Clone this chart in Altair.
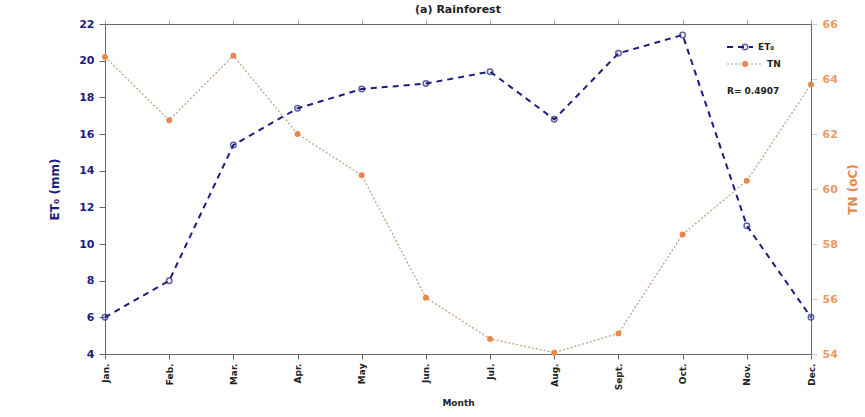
import altair as alt
import pandas as pd

months = ["Jan.", "Feb.", "Mar.", "Apr.", "May", "Jun.", "Jul.", "Aug.", "Sept.", "Oct.", "Nov.", "Dec."]
et0 = [6.0, 8.0, 15.4, 17.4, 18.45, 18.75, 19.4, 16.8, 20.4, 21.4, 11.0, 6.0]
tn = [64.8, 62.5, 64.85, 62.0, 60.5, 56.05, 54.55, 54.05, 54.75, 58.35, 60.3, 63.8]

NAVY = "#1c1c80"
ORANGE = "#e8874a"
TN_LINE = "#c99a7a"
FONT = "DejaVu Sans"

df = pd.DataFrame({"month": months, "et0": et0, "tn": tn})

x_bottom = alt.X(
    "month:O", sort=months,
    scale=alt.Scale(type="point", padding=0),
    axis=alt.Axis(title="Month", labelAngle=-90, labelFont=FONT, labelFontWeight="bold",
                  labelFontSize=9, labelColor="#222", titleFont=FONT, titleFontSize=9,
                  titleFontWeight="bold", titleColor="#222", domainColor="#666",
                  tickColor="#666", tickSize=5, labelPadding=4, titlePadding=9),
)
x_top = alt.X(
    "month:O", sort=months,
    scale=alt.Scale(type="point", padding=0),
    axis=alt.Axis(orient="top", labels=False, title=None, domainColor="#666",
                  tickColor="#aaa", tickSize=5),
)

y_et0 = alt.Y(
    "et0:Q", scale=alt.Scale(domain=[4, 22], nice=False),
    axis=alt.Axis(title="ET₀ (mm)", values=list(range(4, 23, 2)), labelFont=FONT,
                  labelFontWeight="bold", labelFontSize=11, labelColor=NAVY,
                  titleFont=FONT, titleFontSize=12, titleFontWeight="bold",
                  titleColor=NAVY, domainColor="#666", tickColor="#666", tickSize=6,
                  grid=False, labelPadding=5, titlePadding=17),
)
y_tn = alt.Y(
    "tn:Q", scale=alt.Scale(domain=[54, 66], nice=False),
    axis=alt.Axis(orient="right", title="TN (oC)", titleAngle=-90, titleBaseline="bottom",
                  values=list(range(54, 67, 2)),
                  labelFont=FONT, labelFontWeight="bold", labelFontSize=11,
                  labelColor="#eb9a62", titleFont=FONT, titleFontSize=12,
                  titleFontWeight="bold", titleColor=ORANGE, domainColor="#666",
                  tickColor="#ccc", tickSize=6, labelPadding=5, grid=False, titlePadding=22),
)

base = alt.Chart(df)

et0_line = base.mark_line(color=NAVY, strokeDash=[6, 5], strokeWidth=2).encode(x=x_bottom, y=y_et0)
et0_pts = base.mark_point(color=NAVY, shape="circle", size=30, strokeWidth=1.5, filled=False).encode(
    x=x_bottom, y=y_et0)
tn_line = base.mark_line(color=TN_LINE, strokeDash=[2, 2], strokeWidth=1.2).encode(x=x_top, y=y_tn)
tn_pts = base.mark_point(color=ORANGE, shape="circle", size=35, filled=True, opacity=1).encode(
    x=x_top, y=y_tn)

left = alt.layer(et0_line, et0_pts)
right = alt.layer(tn_line, tn_pts)

# hand-drawn legend and correlation note
leg = pd.DataFrame({"k": [0]})
leg_et_line = alt.Chart(leg).mark_rule(color=NAVY, strokeDash=[6, 5], strokeWidth=2).encode(
    x=alt.value(622), x2=alt.value(648), y=alt.value(23))
leg_et_pt = alt.Chart(leg).mark_point(color=NAVY, shape="circle", size=30, strokeWidth=1.5).encode(
    x=alt.value(640), y=alt.value(23))
leg_et_txt = alt.Chart(leg).mark_text(text="ET₀", align="left", baseline="middle", font=FONT,
                                      fontWeight="bold", fontSize=9, color="#222").encode(
    x=alt.value(653), y=alt.value(23))
leg_tn_line = alt.Chart(leg).mark_rule(color=TN_LINE, strokeDash=[2, 2], strokeWidth=1.2).encode(
    x=alt.value(622), x2=alt.value(658), y=alt.value(40))
leg_tn_pt = alt.Chart(leg).mark_point(color=ORANGE, shape="circle", size=35, filled=True, opacity=1).encode(
    x=alt.value(640), y=alt.value(40))
leg_tn_txt = alt.Chart(leg).mark_text(text="TN", align="left", baseline="middle", font=FONT,
                                      fontWeight="bold", fontSize=9, color="#222").encode(
    x=alt.value(662), y=alt.value(40))
r_txt = alt.Chart(leg).mark_text(text="R= 0.4907", align="left", baseline="middle", font=FONT,
                                 fontWeight="bold", fontSize=9, color="#222").encode(
    x=alt.value(622), y=alt.value(67))

chart = (
    alt.layer(left, right, leg_et_line, leg_et_pt, leg_et_txt, leg_tn_line, leg_tn_pt,
              leg_tn_txt, r_txt)
    .resolve_scale(y="independent")
    .resolve_axis(x="independent")
    .properties(
        width=706, height=330,
        title=alt.Title("(a) Rainforest", font=FONT, fontSize=11, fontWeight="bold",
                        color="#222", anchor="middle", offset=3),
        autosize=alt.AutoSizeParams(type="none"),
        padding={"left": 105, "top": 24, "right": 54, "bottom": 63},
    )
    .configure_view(stroke=None)
)

chart.save("out.html", embed_options={"renderer": "svg", "actions": False})
